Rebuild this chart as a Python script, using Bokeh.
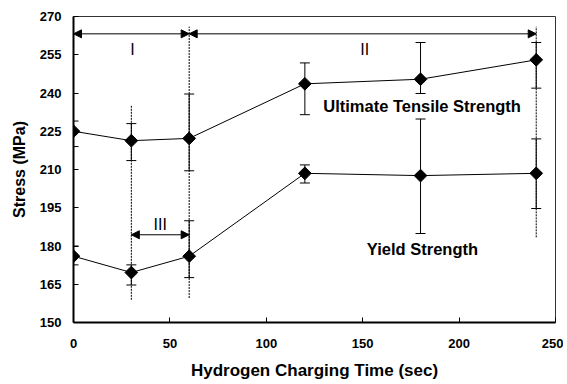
import math
from bokeh.plotting import figure
from bokeh.models import Range1d, Arrow, NormalHead, FixedTicker
from bokeh.core.properties import value
from bokeh.embed import file_html
from bokeh.resources import INLINE

# ---- data ----
time_sec = [0, 30, 60, 120, 180, 240]
uts = [225.0, 221.3, 222.2, 243.6, 245.4, 253.0]
uts_upper = [229.0, 228.0, 239.6, 251.8, 259.8, 259.8]
uts_lower = [219.0, 213.5, 209.5, 231.5, 239.8, 241.9]
ys = [176.0, 169.6, 176.0, 208.5, 207.6, 208.5]
ys_upper = [180.0, 172.6, 189.9, 211.8, 229.8, 222.0]
ys_lower = [172.6, 164.7, 167.6, 204.7, 184.9, 194.7]

divider_x = [30, 60, 240]
divider_bottom = [158.9, 159.6, 183.4]
divider_top = [235.3, 266.0, 266.0]

region_start = [0, 60, 30]
region_end = [60, 240, 60]
region_arrow_y = [263.2, 263.2, 184.4]
region_labels = ["I", "II", "III"]
region_label_x = [30.6, 151.0, 45.0]
region_label_y = [257.0, 257.0, 188.6]

series_labels = ["Ultimate Tensile Strength", "Yield Strength"]
series_label_x = [180.8, 181.0]
series_label_y = [234.8, 179.0]

x_ticks = [0, 50, 100, 150, 200, 250]
y_ticks = [150, 165, 180, 195, 210, 225, 240, 255, 270]

FONT = "Liberation Sans"

p = figure(width=563, height=384, output_backend="svg", toolbar_location=None,
           x_range=Range1d(0, 250), y_range=Range1d(150, 270),
           min_border_left=73, min_border_right=8, min_border_top=16, min_border_bottom=62)
p.background_fill_color = "white"
p.border_fill_color = "white"
p.grid.visible = False
p.outline_line_color = "#333333"
p.outline_line_width = 1

for ax in (p.xaxis[0], p.yaxis[0]):
    ax.axis_line_width = 2
    ax.axis_line_color = "black"
    ax.major_tick_in = 5
    ax.major_tick_out = 0
    ax.major_tick_line_color = "black"
    ax.minor_tick_line_color = None
    ax.major_label_text_font = FONT
    ax.major_label_text_font_style = "bold"
    ax.major_label_text_font_size = "13px"
    ax.major_label_text_color = "black"
    ax.axis_label_text_font = FONT
    ax.axis_label_text_font_style = "bold"
    ax.axis_label_text_font_size = "16px"
    ax.axis_label_text_color = "black"

p.xaxis.ticker = FixedTicker(ticks=x_ticks)
p.yaxis.ticker = FixedTicker(ticks=y_ticks)
p.xaxis.axis_label = "Hydrogen Charging Time (sec)"
p.xaxis.axis_label_text_font_size = "17px"
p.yaxis.axis_label = "Stress (MPa)"
p.xaxis.major_label_standoff = 16
p.xaxis.axis_label_standoff = 10
p.yaxis.major_label_standoff = 12
p.yaxis.axis_label_standoff = 9

# dashed dividers
p.segment(x0=divider_x, y0=divider_bottom, x1=divider_x, y1=divider_top,
          line_color="black", line_width=1, line_dash="2 1")

# error bars
for up, lo in ((uts_upper, uts_lower), (ys_upper, ys_lower)):
    p.segment(x0=time_sec, y0=lo, x1=time_sec, y1=up, line_color="black", line_width=1)
    p.scatter(x=time_sec, y=up, marker="dash", size=10, line_color="black", line_width=1)
    p.scatter(x=time_sec, y=lo, marker="dash", size=10, line_color="black", line_width=1)

# series
for vals in (uts, ys):
    p.line(x=time_sec, y=vals, line_color="black", line_width=1)
    p.scatter(x=time_sec, y=vals, marker="square", angle=math.pi / 4, size=9,
              fill_color="black", line_color="black")

# region arrows
for x0, x1, yy in zip(region_start, region_end, region_arrow_y):
    p.add_layout(Arrow(x_start=x0, y_start=yy, x_end=x1, y_end=yy,
                       line_color="black", line_width=1,
                       start=NormalHead(size=8, fill_color="black", line_color="black"),
                       end=NormalHead(size=8, fill_color="black", line_color="black")))

p.text(x=region_label_x, y=region_label_y, text=region_labels,
       text_font=value(FONT), text_font_size="16px", text_color="black",
       text_align="center", text_baseline="middle")

p.text(x=series_label_x, y=series_label_y, text=series_labels,
       text_font=value(FONT), text_font_style="bold", text_font_size="16.5px",
       text_color="black", text_align="center", text_baseline="middle")

open("out.html", "w").write(file_html(p, INLINE))
